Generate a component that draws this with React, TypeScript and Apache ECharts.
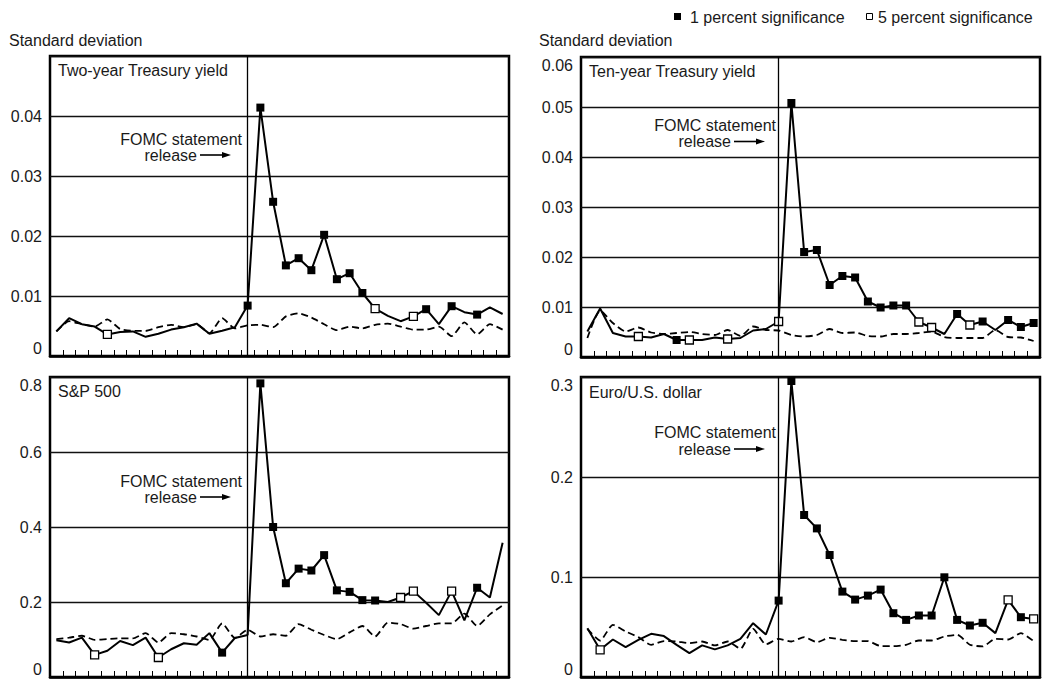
import React, { useEffect, useRef } from "react";
import * as echarts from "echarts";

// Intervals relative to the FOMC statement release (index 15 = release)
const periods = [
  "-15", "-14", "-13", "-12", "-11", "-10", "-9", "-8", "-7", "-6", "-5", "-4",
  "-3", "-2", "-1", "0", "1", "2", "3", "4", "5", "6", "7", "8", "9", "10",
  "11", "12", "13", "14", "15", "16", "17", "18", "19", "20",
];
const releaseIndex = 15;

// Significance codes: 1 = 1 percent, 5 = 5 percent, 0 = none
const twoYearSolid = [0.0041, 0.0063, 0.0053, 0.0049, 0.0036, 0.004, 0.0041, 0.0032, 0.0037, 0.0044, 0.0048, 0.0054, 0.0037, 0.0042, 0.0048, 0.0084, 0.0414, 0.0257, 0.0151, 0.0163, 0.0143, 0.0202, 0.0128, 0.0138, 0.0105, 0.0079, 0.0067, 0.0058, 0.0066, 0.0078, 0.0053, 0.0083, 0.0073, 0.0069, 0.0081, 0.007];
const twoYearDashed = [0.0041, 0.0058, 0.0053, 0.0049, 0.0061, 0.0045, 0.0042, 0.0042, 0.0048, 0.0052, 0.0048, 0.0053, 0.0038, 0.0063, 0.0046, 0.0051, 0.0052, 0.0048, 0.0066, 0.0071, 0.0064, 0.0053, 0.0043, 0.0049, 0.0046, 0.0052, 0.0054, 0.0049, 0.0044, 0.0044, 0.0049, 0.0033, 0.0056, 0.0036, 0.0053, 0.0044];
const twoYearSig = [0, 0, 0, 0, 5, 0, 0, 0, 0, 0, 0, 0, 0, 0, 0, 1, 1, 1, 1, 1, 1, 1, 1, 1, 1, 5, 0, 0, 5, 1, 0, 1, 0, 1, 0, 0];

const tenYearSolid = [0.0051, 0.0097, 0.0048, 0.0041, 0.0041, 0.0039, 0.0046, 0.0034, 0.0034, 0.0034, 0.0039, 0.0036, 0.0038, 0.0053, 0.0056, 0.0071, 0.0508, 0.021, 0.0214, 0.0144, 0.0162, 0.0159, 0.0111, 0.0099, 0.0103, 0.0103, 0.007, 0.0059, 0.0046, 0.0086, 0.0064, 0.0071, 0.0054, 0.0074, 0.006, 0.0068];
const tenYearDashed = [0.0038, 0.0093, 0.0068, 0.0051, 0.0059, 0.0049, 0.0046, 0.0048, 0.005, 0.0046, 0.0044, 0.0054, 0.0042, 0.0061, 0.0054, 0.0053, 0.0044, 0.0041, 0.0044, 0.0056, 0.0048, 0.0049, 0.0042, 0.0041, 0.0046, 0.0046, 0.0048, 0.0051, 0.004, 0.0038, 0.0038, 0.0038, 0.0054, 0.004, 0.0039, 0.0032];
const tenYearSig = [0, 0, 0, 0, 5, 0, 0, 1, 5, 0, 0, 5, 0, 0, 0, 5, 1, 1, 1, 1, 1, 1, 1, 1, 1, 1, 5, 5, 0, 1, 5, 1, 0, 1, 1, 1];

const spSolid = [0.098, 0.092, 0.105, 0.059, 0.07, 0.096, 0.085, 0.105, 0.052, 0.074, 0.09, 0.086, 0.117, 0.065, 0.104, 0.112, 0.783, 0.4, 0.25, 0.289, 0.284, 0.325, 0.231, 0.227, 0.205, 0.204, 0.2, 0.212, 0.229, 0.198, 0.165, 0.229, 0.151, 0.238, 0.212, 0.358];
const spDashed = [0.101, 0.105, 0.11, 0.099, 0.101, 0.103, 0.103, 0.117, 0.092, 0.117, 0.114, 0.108, 0.099, 0.143, 0.104, 0.126, 0.108, 0.114, 0.11, 0.141, 0.126, 0.112, 0.101, 0.119, 0.136, 0.108, 0.145, 0.141, 0.129, 0.136, 0.143, 0.143, 0.169, 0.136, 0.167, 0.191];
const spSig = [0, 0, 0, 5, 0, 0, 0, 0, 5, 0, 0, 0, 0, 1, 0, 0, 1, 1, 1, 1, 1, 1, 1, 1, 1, 1, 0, 5, 5, 0, 0, 5, 0, 1, 0, 0];

const euroSolid = [0.0488, 0.0272, 0.0375, 0.0299, 0.0372, 0.0432, 0.0409, 0.0322, 0.0239, 0.0316, 0.0276, 0.0316, 0.0382, 0.0538, 0.0425, 0.0764, 0.296, 0.162, 0.1486, 0.122, 0.0854, 0.0774, 0.0814, 0.0874, 0.0638, 0.0571, 0.0615, 0.0615, 0.0997, 0.0571, 0.0515, 0.0542, 0.0439, 0.0771, 0.0598, 0.0581];
const euroDashed = [0.0482, 0.0365, 0.0522, 0.0455, 0.0399, 0.0322, 0.0359, 0.0355, 0.0339, 0.0355, 0.0316, 0.0355, 0.0282, 0.0482, 0.0326, 0.0382, 0.0355, 0.0399, 0.0349, 0.0392, 0.0372, 0.0359, 0.0359, 0.0309, 0.0309, 0.0322, 0.0365, 0.0365, 0.0405, 0.0422, 0.0322, 0.0306, 0.0382, 0.0375, 0.0439, 0.0359];
const euroSig = [0, 5, 0, 0, 0, 0, 0, 0, 0, 0, 0, 0, 0, 0, 0, 1, 1, 1, 1, 1, 1, 1, 1, 1, 1, 1, 1, 1, 1, 1, 1, 1, 0, 5, 1, 5];

const panelTitles = ["Two-year Treasury yield", "Ten-year Treasury yield", "S&P 500", "Euro/U.S. dollar"];
const yMax = [0.05, 0.06, 0.8, 0.3];
const yInterval = [0.01, 0.01, 0.2, 0.1];
const legendLabels = ["1 percent significance", "5 percent significance"];
const yAxisName = "Standard deviation";
const annotationLines = ["FOMC statement", "release"];

const FONT = '"Liberation Sans", Arial, Helvetica, sans-serif';
const TXT = "#1a1a1a";

const panels = [
  { solid: twoYearSolid, dashed: twoYearDashed, sig: twoYearSig, grid: { left: 50, top: 56, width: 459, height: 300 }, hideMax: true },
  { solid: tenYearSolid, dashed: tenYearDashed, sig: tenYearSig, grid: { left: 581, top: 57, width: 459, height: 300 }, hideMax: false },
  { solid: spSolid, dashed: spDashed, sig: spSig, grid: { left: 50, top: 377, width: 459, height: 300 }, hideMax: false },
  { solid: euroSolid, dashed: euroDashed, sig: euroSig, grid: { left: 581, top: 377, width: 459, height: 300 }, hideMax: false },
];

function text(str: string, x: number, y: number, align: string = "left") {
  return {
    type: "text",
    x,
    y,
    silent: true,
    style: {
      text: str,
      fill: TXT,
      font: `16px ${FONT}`,
      textAlign: align,
      textVerticalAlign: "middle",
      align,
      verticalAlign: "middle",
    },
  };
}

function arrow(x1: number, x2: number, y: number) {
  return [
    { type: "line", silent: true, shape: { x1, y1: y, x2: x2 - 6, y2: y }, style: { stroke: "#000", lineWidth: 1.6 } },
    { type: "polygon", silent: true, shape: { points: [[x2 - 9, y - 3], [x2, y], [x2 - 9, y + 3]] }, style: { fill: "#000" } },
  ];
}

function fmt(v: number) {
  if (v === 0) return "0";
  return String(parseFloat(v.toFixed(3)));
}

export default function App() {
  const ref = useRef<HTMLDivElement>(null);

  useEffect(() => {
    if (!ref.current) return;
    const chart = echarts.init(ref.current, undefined, { renderer: "svg" });

    const grids: any[] = [];
    const xAxes: any[] = [];
    const yAxes: any[] = [];
    const series: any[] = [];

    panels.forEach((p, i) => {
      grids.push({ ...p.grid, show: true, borderColor: "#000", borderWidth: 2.5, backgroundColor: "transparent" });
      xAxes.push({
        type: "category",
        gridIndex: i,
        data: periods,
        boundaryGap: true,
        axisLine: { show: true, lineStyle: { color: "#000", width: 2.5 } },
        axisTick: { show: true, inside: true, length: 6, interval: 0, lineStyle: { color: "#000", width: 1 } },
        axisLabel: { show: false },
        splitLine: { show: false },
      });
      yAxes.push({
        type: "value",
        gridIndex: i,
        min: 0,
        max: yMax[i],
        interval: yInterval[i],
        axisLine: { show: false },
        axisTick: { show: false },
        splitLine: { show: true, lineStyle: { color: "#111", width: 1.3 } },
        axisLabel: {
          margin: 8,
          fontSize: 16,
          fontFamily: FONT,
          color: TXT,
          showMaxLabel: !p.hideMax,
          formatter: (v: number) => fmt(v),
          verticalAlignMinLabel: "bottom",
          verticalAlignMaxLabel: "top",
        },
      });
      series.push({
        type: "line",
        xAxisIndex: i,
        yAxisIndex: i,
        data: p.dashed,
        symbol: "none",
        smooth: 0.2,
        silent: true,
        z: 2,
        lineStyle: { color: "#000", width: 1.8, type: [7, 4] },
      });
      series.push({
        type: "line",
        xAxisIndex: i,
        yAxisIndex: i,
        data: p.solid,
        symbol: "none",
        silent: true,
        z: 3,
        lineStyle: { color: "#000", width: 2 },
        markLine: {
          silent: true,
          symbol: ["none", "none"],
          label: { show: false },
          lineStyle: { color: "#000", width: 1.3, type: "solid" },
          data: [{ xAxis: releaseIndex }],
        },
      });
      series.push({
        type: "scatter",
        name: legendLabels[0],
        xAxisIndex: i,
        yAxisIndex: i,
        data: p.sig.map((s, k) => (s === 1 ? p.solid[k] : "-")),
        symbol: "rect",
        symbolSize: 8,
        z: 4,
        silent: true,
        itemStyle: { color: "#000", opacity: 1 },
      });
      series.push({
        type: "scatter",
        name: legendLabels[1],
        xAxisIndex: i,
        yAxisIndex: i,
        data: p.sig.map((s, k) => (s === 5 ? p.solid[k] : "-")),
        symbol: "rect",
        symbolSize: 8,
        z: 4,
        silent: true,
        itemStyle: { color: "#fff", borderColor: "#000", borderWidth: 1.3, opacity: 1 },
      });
    });

    const graphics: any[] = [
      // y axis names
      text(yAxisName, 9, 40),
      text(yAxisName, 539, 40),
      // legend
      { type: "rect", silent: true, shape: { x: 674, y: 13, width: 7, height: 7 }, style: { fill: "#000" } },
      text(legendLabels[0], 690, 17),
      { type: "rect", silent: true, shape: { x: 866.5, y: 13.5, width: 6, height: 6 }, style: { fill: "#fff", stroke: "#000", lineWidth: 1 } },
      text(legendLabels[1], 878, 17),
      // panel titles
      text(panelTitles[0], 58, 70),
      text(panelTitles[1], 589, 71.5),
      text(panelTitles[2], 58, 391),
      text(panelTitles[3], 589, 392),
      // annotations
      text(annotationLines[0], 242, 139, "right"),
      text(annotationLines[1], 197, 155, "right"),
      ...arrow(200, 231, 155),
      text(annotationLines[0], 776, 125, "right"),
      text(annotationLines[1], 731, 141.5, "right"),
      ...arrow(734, 765, 141.5),
      text(annotationLines[0], 242, 481, "right"),
      text(annotationLines[1], 197, 497, "right"),
      ...arrow(200, 231, 497),
      text(annotationLines[0], 776, 432, "right"),
      text(annotationLines[1], 731, 449, "right"),
      ...arrow(734, 765, 449),
    ];

    chart.setOption({
      animation: false,
      backgroundColor: "#fff",
      textStyle: { fontFamily: FONT },
      grid: grids,
      xAxis: xAxes,
      yAxis: yAxes,
      series,
      graphic: graphics,
    });

    return () => chart.dispose();
  }, []);

  return (
    <div
      ref={ref}
      style={{ position: "absolute", left: 0, top: 0, width: 1043, height: 679 }}
    />
  );
}
